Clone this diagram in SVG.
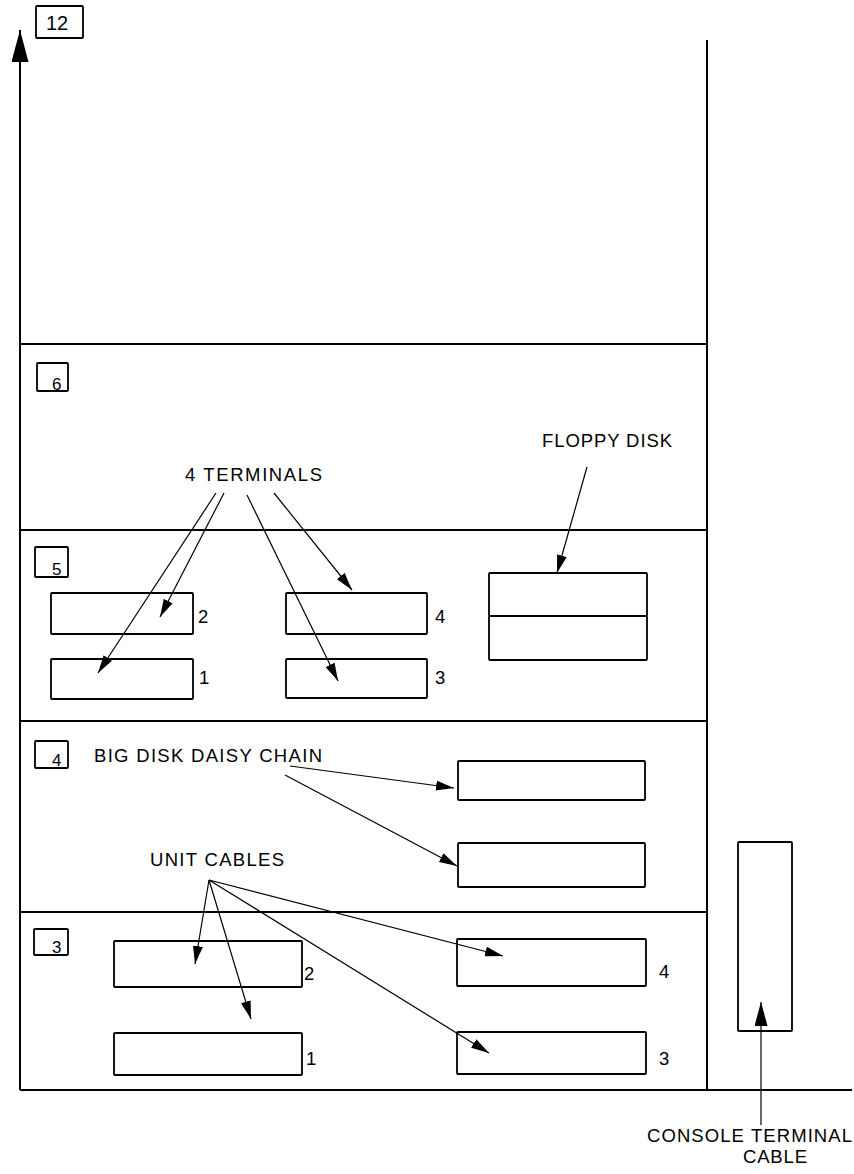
<svg xmlns="http://www.w3.org/2000/svg" width="854" height="1174" viewBox="0 0 854 1174">
<style>
.frame{stroke:#000;stroke-width:2;fill:none}
.box{stroke:#000;stroke-width:1.8;fill:#fff}
.tag{stroke:#000;stroke-width:1.8;fill:#fff}
.arr{stroke:#000;stroke-width:1.2;fill:none;marker-end:url(#ah)}
.t{font-family:"Liberation Sans",Arial,sans-serif;font-size:18.5px;fill:#000}
.n{font-family:"Liberation Sans",Arial,sans-serif;font-size:17px;fill:#000}
</style>
<defs>
<marker id="ah" viewBox="0 0 18 10" refX="18" refY="5" markerWidth="18" markerHeight="10" markerUnits="userSpaceOnUse" orient="auto"><path d="M0,0 L18,5 L0,10 z" fill="#000"/></marker>
<marker id="ahBig" viewBox="0 0 32 17" refX="32" refY="8.5" markerWidth="32" markerHeight="17" markerUnits="userSpaceOnUse" orient="auto"><path d="M0,0 L32,8.5 L0,17 z" fill="#000"/></marker>
<marker id="ahMid" viewBox="0 0 24 13" refX="24" refY="6.5" markerWidth="24" markerHeight="13" markerUnits="userSpaceOnUse" orient="auto"><path d="M0,0 L24,6.5 L0,13 z" fill="#000"/></marker>
</defs>
<rect width="854" height="1174" fill="#fff"/>

<g id="cabinet">
<line class="frame" x1="707" y1="40" x2="707" y2="1090"/>
<line class="frame" x1="20" y1="344" x2="707" y2="344"/>
<line class="frame" x1="20" y1="530" x2="707" y2="530"/>
<line class="frame" x1="20" y1="721" x2="707" y2="721"/>
<line class="frame" x1="20" y1="912" x2="707" y2="912"/>
<line class="frame" x1="20" y1="1090" x2="852" y2="1090"/>
</g>

<g id="tag12"><rect class="tag" x="36" y="6" width="47" height="32" rx="1"/><text class="n" x="46" y="30" style="font-size:20px">12</text></g>
<g id="tag6"><rect class="tag" x="37" y="363" width="31" height="28" rx="1"/><text class="n" x="52" y="390">6</text></g>
<g id="tag5"><rect class="tag" x="35" y="547" width="33" height="30" rx="1"/><text class="n" x="52" y="575">5</text></g>
<g id="tag4"><rect class="tag" x="35" y="741" width="33" height="27" rx="1"/><text class="n" x="52" y="766">4</text></g>
<g id="tag3"><rect class="tag" x="34" y="929" width="34" height="26" rx="1"/><text class="n" x="52" y="953">3</text></g>

<g id="term2"><rect class="box" x="51" y="593" width="142" height="41" rx="1"/><text class="t" x="198" y="623">2</text></g>
<g id="term1"><rect class="box" x="51" y="659" width="142" height="40" rx="1"/><text class="t" x="199" y="684">1</text></g>
<g id="term4"><rect class="box" x="286" y="593" width="141" height="41" rx="1"/><text class="t" x="435" y="623">4</text></g>
<g id="term3"><rect class="box" x="286" y="659" width="141" height="39" rx="1"/><text class="t" x="435" y="684">3</text></g>

<g id="floppy"><rect class="box" x="489" y="573" width="158" height="87" rx="1"/><line class="box" x1="489" y1="616" x2="647" y2="616"/></g>

<g id="disk1"><rect class="box" x="458" y="761" width="187" height="39" rx="1"/></g>
<g id="disk2"><rect class="box" x="458" y="843" width="187" height="44" rx="1"/></g>

<g id="unit2"><rect class="box" x="114" y="941" width="188" height="46" rx="1"/><text class="t" x="304" y="980">2</text></g>
<g id="unit1"><rect class="box" x="114" y="1033" width="188" height="42" rx="1"/><text class="t" x="306" y="1065">1</text></g>
<g id="unit4"><rect class="box" x="457" y="939" width="189" height="47" rx="1"/><text class="t" x="659" y="978">4</text></g>
<g id="unit3"><rect class="box" x="457" y="1032" width="189" height="42" rx="1"/><text class="t" x="659" y="1065">3</text></g>

<g id="console"><rect class="box" x="738" y="842" width="54" height="189" rx="1"/></g>

<g id="labels">
<text class="t" x="185" y="481" textLength="137" lengthAdjust="spacing">4 TERMINALS</text>
<text class="t" x="542" y="447" textLength="130" lengthAdjust="spacing">FLOPPY DISK</text>
<text class="t" x="94" y="762" textLength="228" lengthAdjust="spacing">BIG DISK DAISY CHAIN</text>
<text class="t" x="150" y="866" textLength="134" lengthAdjust="spacing">UNIT CABLES</text>
<text class="t" x="647" y="1142" textLength="205" lengthAdjust="spacing">CONSOLE TERMINAL</text>
<text class="t" x="743" y="1163" textLength="64" lengthAdjust="spacing">CABLE</text>
</g>

<g id="connectors">
<line x1="20" y1="1090" x2="20" y2="30" stroke="#000" stroke-width="2" marker-end="url(#ahBig)"/>
<line class="arr" x1="216" y1="493" x2="98" y2="673"/>
<line class="arr" x1="224" y1="493" x2="160" y2="617"/>
<line class="arr" x1="247" y1="495" x2="338" y2="681"/>
<line class="arr" x1="274" y1="493" x2="352" y2="590"/>
<line class="arr" x1="587" y1="467" x2="557" y2="573"/>
<line class="arr" x1="290" y1="766" x2="454" y2="788"/>
<line class="arr" x1="285" y1="775" x2="457" y2="866"/>
<line class="arr" x1="209" y1="880" x2="195" y2="964"/>
<line class="arr" x1="209" y1="880" x2="251" y2="1019"/>
<line class="arr" x1="209" y1="880" x2="503" y2="956"/>
<line class="arr" x1="209" y1="880" x2="489" y2="1053"/>
<line x1="761" y1="1125" x2="761" y2="1002" stroke="#000" stroke-width="1.2" marker-end="url(#ahMid)"/>
</g>
</svg>
